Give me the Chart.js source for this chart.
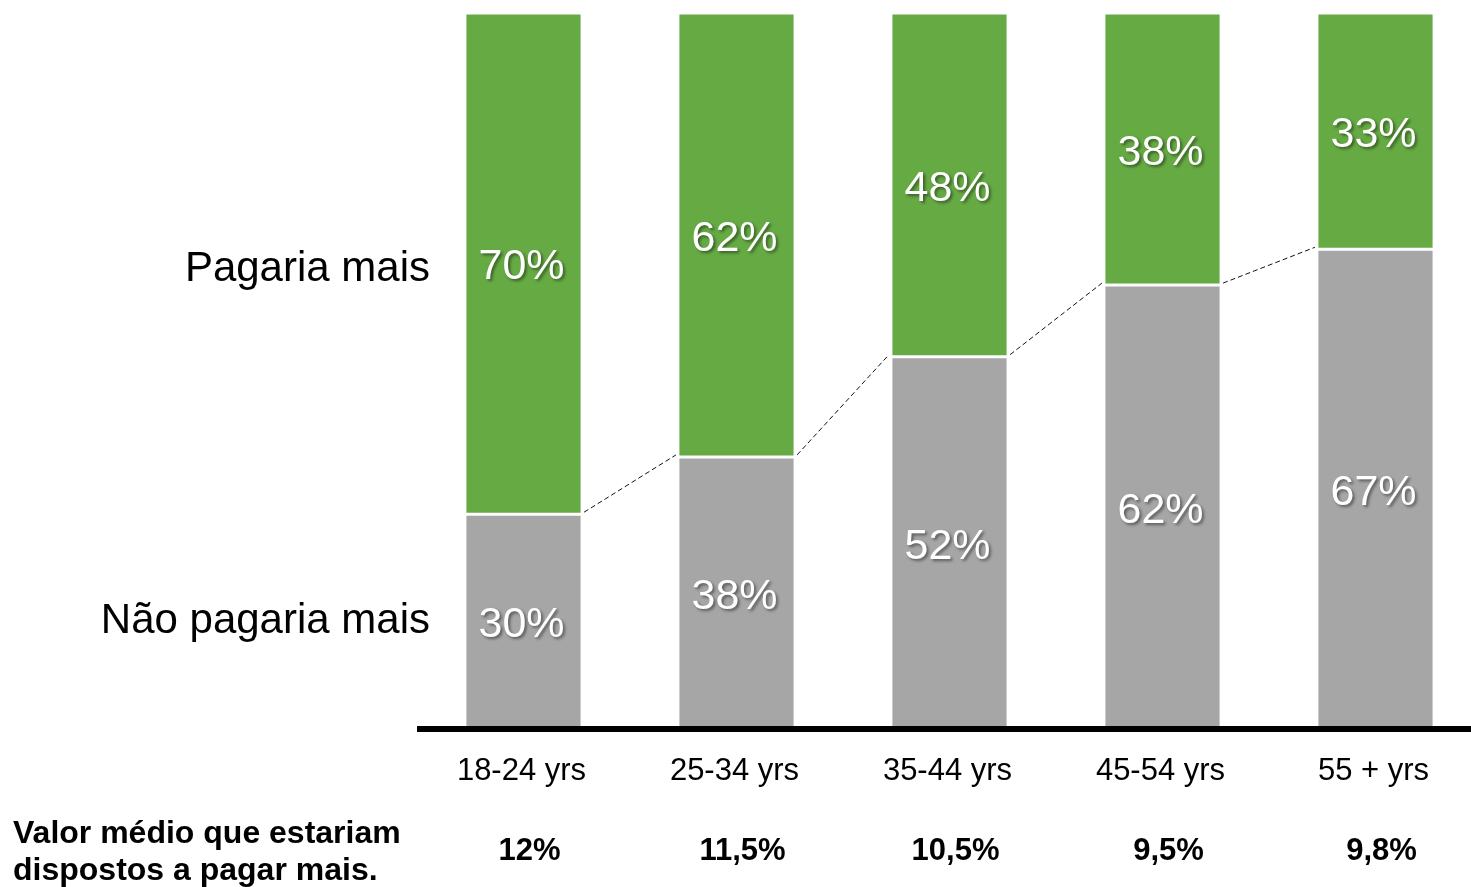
<!DOCTYPE html>
<html>
<head>
<meta charset="utf-8">
<script src="https://cdn.jsdelivr.net/npm/chart.js@4"></script>
<style>
  html, body { margin: 0; padding: 0; background: #fff; overflow: hidden; }
  .wrap { width: 1482px; height: 887px; position: relative; }
</style>
</head>
<body>
<div class="wrap"><canvas id="myChart"></canvas></div>
<script>
// data
const ageGroups = ["18-24 yrs", "25-34 yrs", "35-44 yrs", "45-54 yrs", "55 + yrs"];
const naoPagaria = [30, 38, 52, 62, 67];
const pagaria = [70, 62, 48, 38, 33];
const valorMedio = ["12%", "11,5%", "10,5%", "9,5%", "9,8%"];
const seriesNames = ["Não pagaria mais", "Pagaria mais"];
const rowTitle = ["Valor médio que estariam", "dispostos a pagar mais."];

const FONT = "'Liberation Sans', Arial, sans-serif";

// value labels, side labels, dashed connectors, axis line, bottom rows
const annotate = {
  id: "annotate",
  afterDatasetsDraw(c) {
    const ctx = c.ctx;
    const x = c.scales.x;
    const y = c.scales.y;
    const area = c.chartArea;

    // dashed lines between the grey tops
    const meta0 = c.getDatasetMeta(0);
    ctx.save();
    ctx.strokeStyle = "#111";
    ctx.lineWidth = 1;
    ctx.setLineDash([5, 3]);
    for (let i = 0; i < naoPagaria.length - 1; i++) {
      const a = meta0.data[i];
      const b = meta0.data[i + 1];
      ctx.beginPath();
      ctx.moveTo(a.x + a.width / 2 + 2, y.getPixelForValue(naoPagaria[i]) - 2);
      ctx.lineTo(b.x - b.width / 2 - 2, y.getPixelForValue(naoPagaria[i + 1]) - 2);
      ctx.stroke();
    }
    ctx.restore();

    // value labels inside segments
    ctx.save();
    ctx.font = "43px " + FONT;
    ctx.textAlign = "center";
    ctx.textBaseline = "middle";
    ctx.fillStyle = "#fff";
    ctx.shadowColor = "rgba(0,0,0,0.45)";
    ctx.shadowOffsetX = 2;
    ctx.shadowOffsetY = 2;
    ctx.shadowBlur = 3;
    [naoPagaria, pagaria].forEach((vals, di) => {
      const meta = c.getDatasetMeta(di);
      vals.forEach((v, i) => {
        const bar = meta.data[i];
        ctx.fillText(v + "%", bar.x - 2, (bar.y + bar.base) / 2 + 4);
      });
    });
    ctx.restore();

    // series names on the left, next to first bar
    ctx.save();
    ctx.font = "42px " + FONT;
    ctx.textAlign = "right";
    ctx.textBaseline = "middle";
    ctx.fillStyle = "#000";
    [0, 1].forEach((di) => {
      const bar = c.getDatasetMeta(di).data[0];
      ctx.fillText(seriesNames[di], 430, (bar.y + bar.base) / 2 + (di === 0 ? 0 : 6));
    });
    ctx.restore();

    // thick axis line
    ctx.save();
    ctx.fillStyle = "#000";
    ctx.fillRect(area.left, area.bottom - 3, 1471 - area.left, 6);
    ctx.restore();

    // category labels
    ctx.save();
    ctx.font = "31px " + FONT;
    ctx.textAlign = "center";
    ctx.textBaseline = "middle";
    ctx.fillStyle = "#000";
    ageGroups.forEach((g, i) => {
      ctx.fillText(g, x.getPixelForValue(i) - 2, area.bottom + 42);
    });

    // bottom row
    ctx.font = "bold 31px " + FONT;
    valorMedio.forEach((v, i) => {
      ctx.fillText(v, x.getPixelForValue(i) + 6, area.bottom + 122);
    });
    ctx.font = "bold 32px " + FONT;
    ctx.textAlign = "left";
    ctx.fillText(rowTitle[0], 13, area.bottom + 105);
    ctx.fillText(rowTitle[1], 13, area.bottom + 142);
    ctx.restore();
  }
};

new Chart(document.getElementById("myChart"), {
  type: "bar",
  data: {
    labels: ageGroups,
    datasets: [
      {
        label: seriesNames[0],
        data: naoPagaria,
        backgroundColor: "#a6a6a6",
        borderColor: "#fff",
        borderWidth: 1.5,
        borderSkipped: false,
      },
      {
        label: seriesNames[1],
        data: pagaria,
        backgroundColor: "#66aa44",
        borderColor: "#fff",
        borderWidth: 1.5,
        borderSkipped: false,
      },
    ],
  },
  options: {
    responsive: true,
    maintainAspectRatio: false,
    animation: false,
    datasets: { bar: { categoryPercentage: 1, barPercentage: 0.55 } },
    layout: { padding: { left: 417, top: 13, right: 0, bottom: 158 } },
    plugins: { legend: { display: false }, tooltip: { enabled: false } },
    scales: {
      x: {
        stacked: true,
        display: false,
      },
      y: {
        stacked: true,
        display: false,
        min: 0,
        max: 100,
      },
    },
  },
  plugins: [annotate],
});
</script>
</body>
</html>
